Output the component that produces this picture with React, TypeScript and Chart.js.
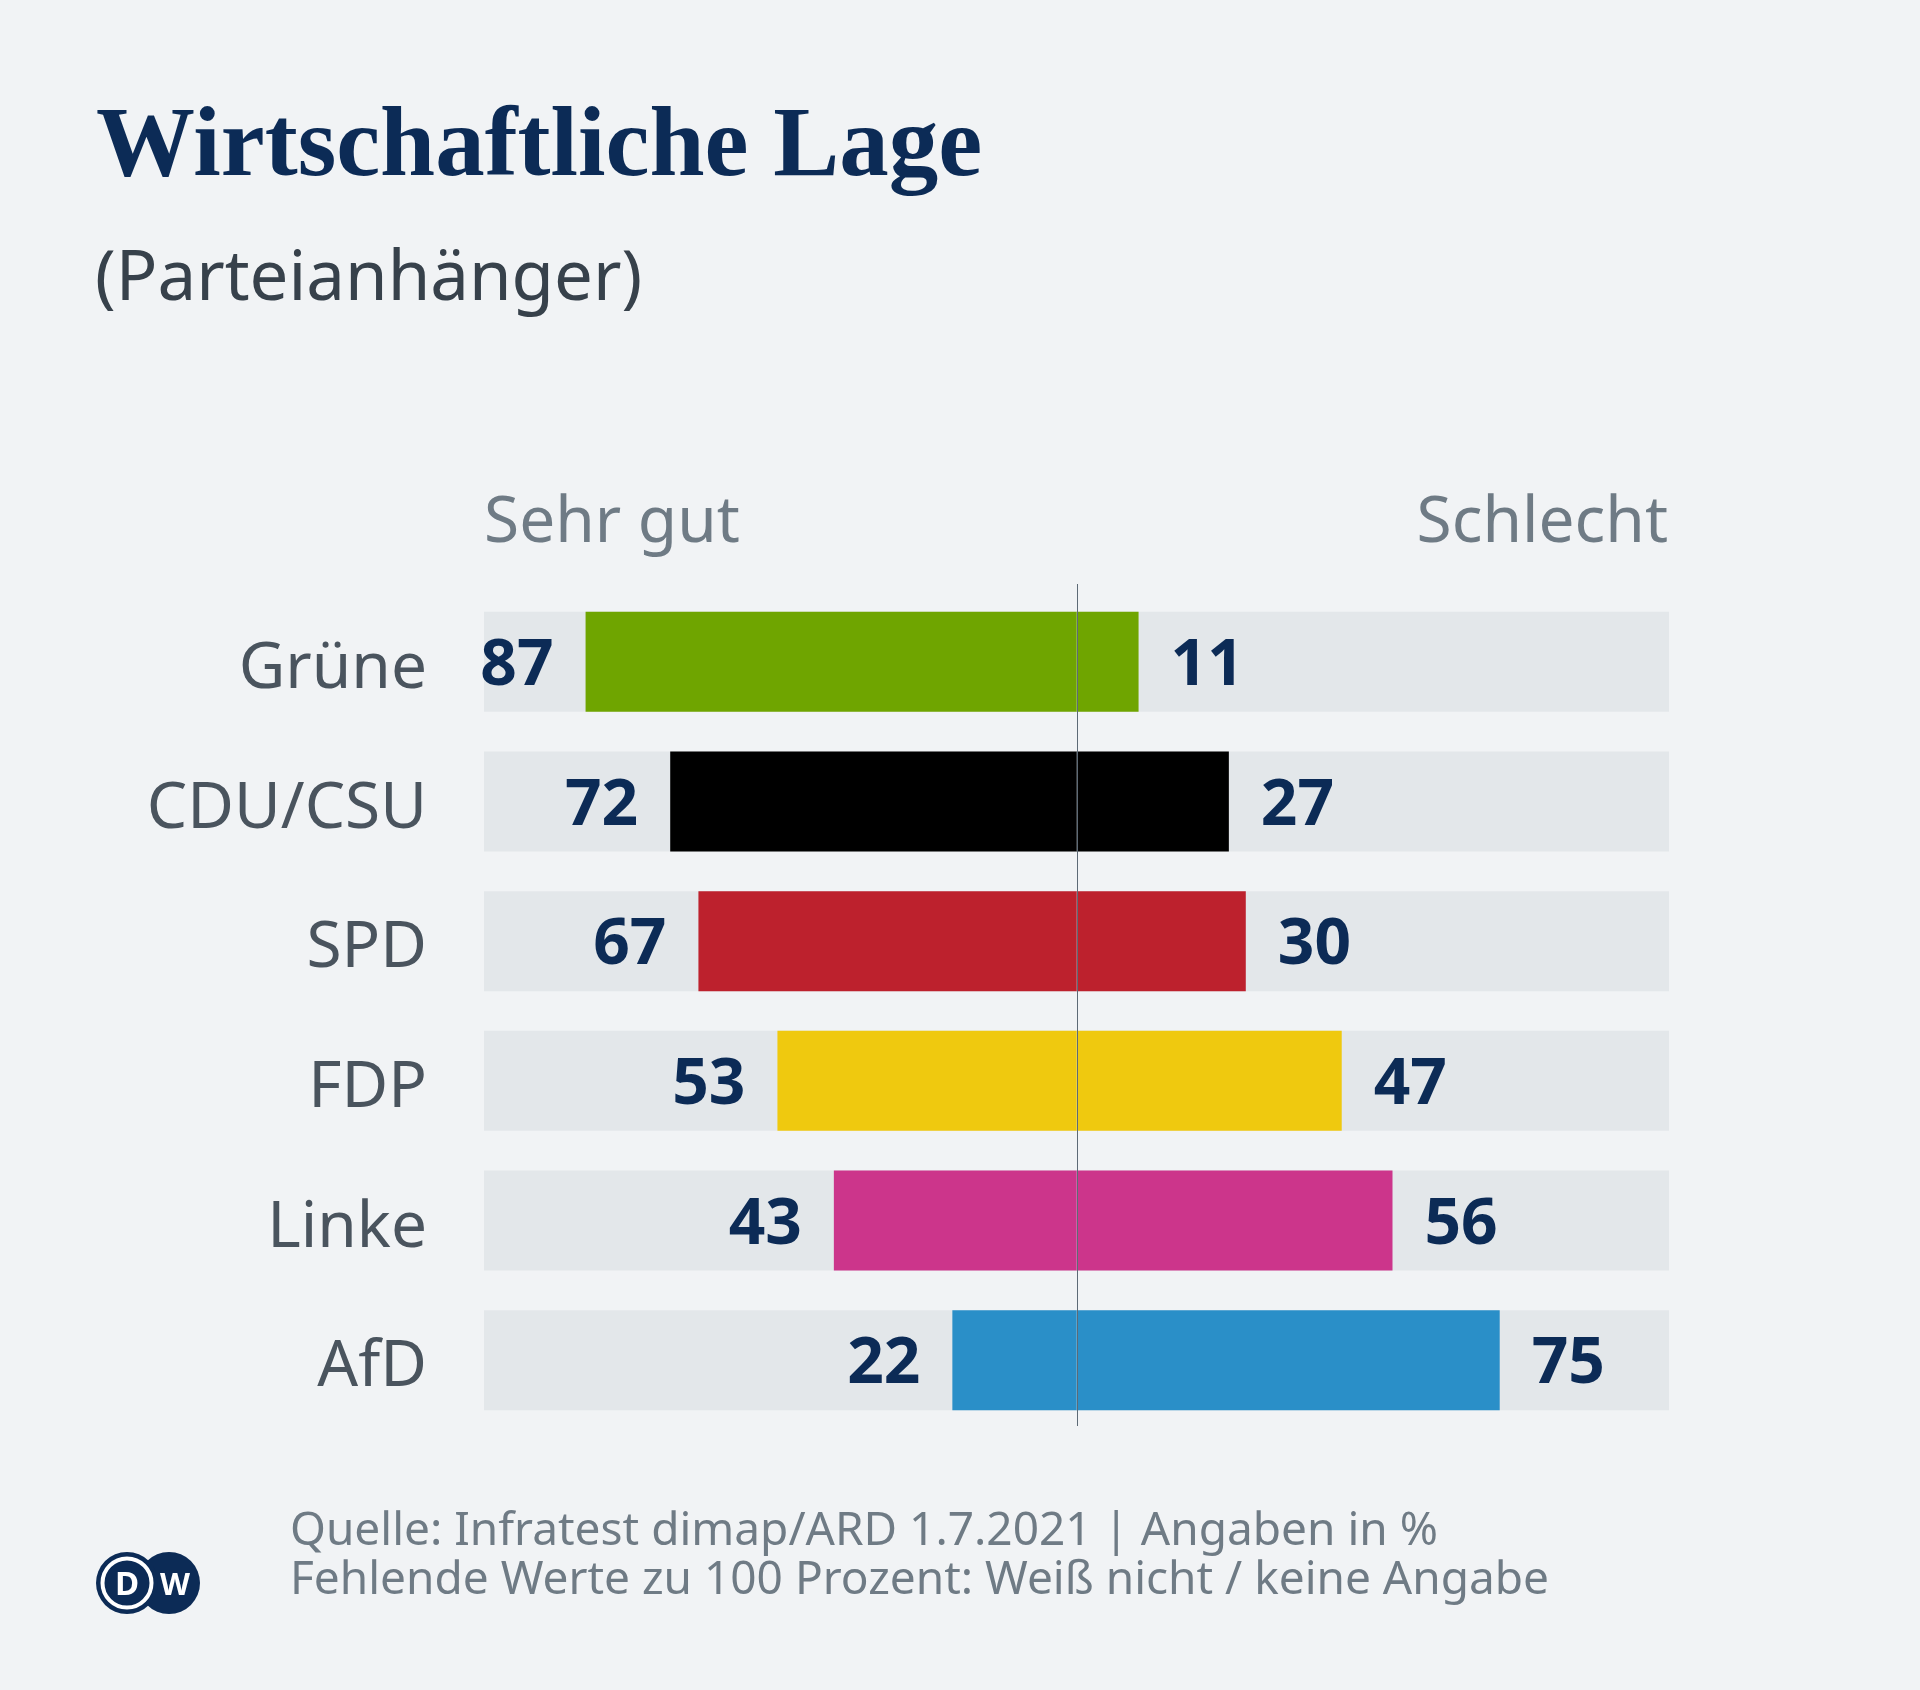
import React, { useEffect, useRef } from "react";
import { Chart, registerables } from "chart.js";

Chart.register(...registerables);

const categories = ["Grüne", "CDU/CSU", "SPD", "FDP", "Linke", "AfD"];
const sehrGut = [87, 72, 67, 53, 43, 22];
const schlecht = [11, 27, 30, 47, 56, 75];
const partyColors = ["#6fa500", "#000000", "#bd212d", "#efc90f", "#cc358b", "#2a8fc8"];
const trackRange = [-105, 105];
const headerLeft = "Sehr gut";
const headerRight = "Schlecht";
const titleText = "Wirtschaftliche Lage";
const subtitleText = "(Parteianhänger)";
const sourceLines = [
  "Quelle: Infratest dimap/ARD 1.7.2021 | Angaben in %",
  "Fehlende Werte zu 100 Prozent: Weiß nicht / keine Angabe",
];

const NAVY = "#0c2b56";
const BG = "#f1f3f5";
const TRACK = "#e3e7ea";

const overlayPlugin = {
  id: "overlay",
  afterDatasetsDraw(chart: any) {
    const { ctx, chartArea } = chart;
    const x = chart.scales.x;
    const y = chart.scales.y;
    ctx.save();
    const cx = Math.round(x.getPixelForValue(0)) + 0.5;
    ctx.strokeStyle = "#5d6a76";
    ctx.lineWidth = 1;
    ctx.beginPath();
    ctx.moveTo(cx, chartArea.top - 8);
    ctx.lineTo(cx, chartArea.bottom - 4);
    ctx.stroke();

    ctx.font = "bold 64px 'Noto Sans'";
    ctx.fillStyle = NAVY;
    ctx.textBaseline = "alphabetic";
    categories.forEach((_, i) => {
      const yc = y.getPixelForValue(i) + 23;
      ctx.textAlign = "right";
      ctx.fillText(String(sehrGut[i]), x.getPixelForValue(-sehrGut[i]) - 32, yc);
      ctx.textAlign = "left";
      ctx.fillText(String(schlecht[i]), x.getPixelForValue(schlecht[i]) + 32, yc);
    });
    ctx.restore();
  },
};

export default function App() {
  const canvasRef = useRef<HTMLCanvasElement | null>(null);

  useEffect(() => {
    if (!canvasRef.current) return;
    const chart = new Chart(canvasRef.current, {
      type: "bar",
      data: {
        labels: categories,
        datasets: [
          {
            label: headerLeft,
            data: sehrGut.map((v) => [-v, 0]) as any,
            backgroundColor: partyColors,
            borderWidth: 0,
            grouped: false,
            barPercentage: 0.716,
            categoryPercentage: 1,
            order: 1,
          } as any,
          {
            label: headerRight,
            data: schlecht.map((v) => [0, v]) as any,
            backgroundColor: partyColors,
            borderWidth: 0,
            grouped: false,
            barPercentage: 0.716,
            categoryPercentage: 1,
            order: 1,
          } as any,
          {
            label: "track",
            data: categories.map(() => trackRange) as any,
            backgroundColor: TRACK,
            borderWidth: 0,
            grouped: false,
            barPercentage: 0.716,
            categoryPercentage: 1,
            order: 2,
          } as any,
        ],
      },
      options: {
        indexAxis: "y",
        responsive: false,
        animation: false,
        devicePixelRatio: 1,
        layout: { padding: { left: 0, right: 251, top: 592, bottom: 260 } },
        plugins: { legend: { display: false }, tooltip: { enabled: false } },
        scales: {
          x: { display: false, min: -105, max: 105 },
          y: {
            afterFit(s: any) {
              s.width = 484;
            },
            grid: { display: false, drawTicks: false },
            border: { display: false },
            ticks: {
              padding: 57,
              labelOffset: 8,
              color: "#4a545e",
              font: { family: "'Noto Sans'", size: 64 },
            },
          },
        },
      } as any,
      plugins: [overlayPlugin],
    });
    return () => chart.destroy();
  }, []);

  return (
    <div
      style={{
        position: "absolute",
        left: 0,
        top: 0,
        width: 1920,
        height: 1690,
        background: BG,
        overflow: "hidden",
      }}
    >
      <canvas
        ref={canvasRef}
        width={1920}
        height={1690}
        style={{ position: "absolute", left: 0, top: 0, display: "block" }}
      />
      <svg
        width={1920}
        height={1690}
        style={{ position: "absolute", left: 0, top: 0, pointerEvents: "none" }}
      >
        <text x={96} y={175} fontFamily="'Liberation Serif'" fontWeight={700} fontSize={99} fill={NAVY}>
          {titleText}
        </text>
        <text x={95} y={300} fontFamily="'Noto Sans'" fontSize={69} fill="#37414b">
          {subtitleText}
        </text>
        <text x={484} y={542} fontFamily="'Noto Sans'" fontSize={64} fill="#6f7b85">
          {headerLeft}
        </text>
        <text x={1668} y={542} textAnchor="end" fontFamily="'Noto Sans'" fontSize={64} fill="#6f7b85">
          {headerRight}
        </text>
        <text x={290} y={1545} fontFamily="'Noto Sans'" fontSize={46} fill="#6f7b85">
          {sourceLines[0]}
        </text>
        <text x={290} y={1594} fontFamily="'Noto Sans'" fontSize={46} fill="#6f7b85">
          {sourceLines[1]}
        </text>
        <g>
          <circle cx={169} cy={1583} r={31} fill={NAVY} />
          <circle cx={127} cy={1583} r={31} fill={NAVY} />
          <circle cx={127} cy={1583} r={24.5} fill="none" stroke="#ffffff" strokeWidth={4} />
          <text x={127} y={1595} textAnchor="middle" fontFamily="'Noto Sans'" fontWeight={700} fontSize={33} fill="#ffffff">
            D
          </text>
          <text x={175} y={1595} textAnchor="middle" fontFamily="'Noto Sans'" fontWeight={700} fontSize={31} fill="#ffffff">
            W
          </text>
        </g>
      </svg>
    </div>
  );
}
